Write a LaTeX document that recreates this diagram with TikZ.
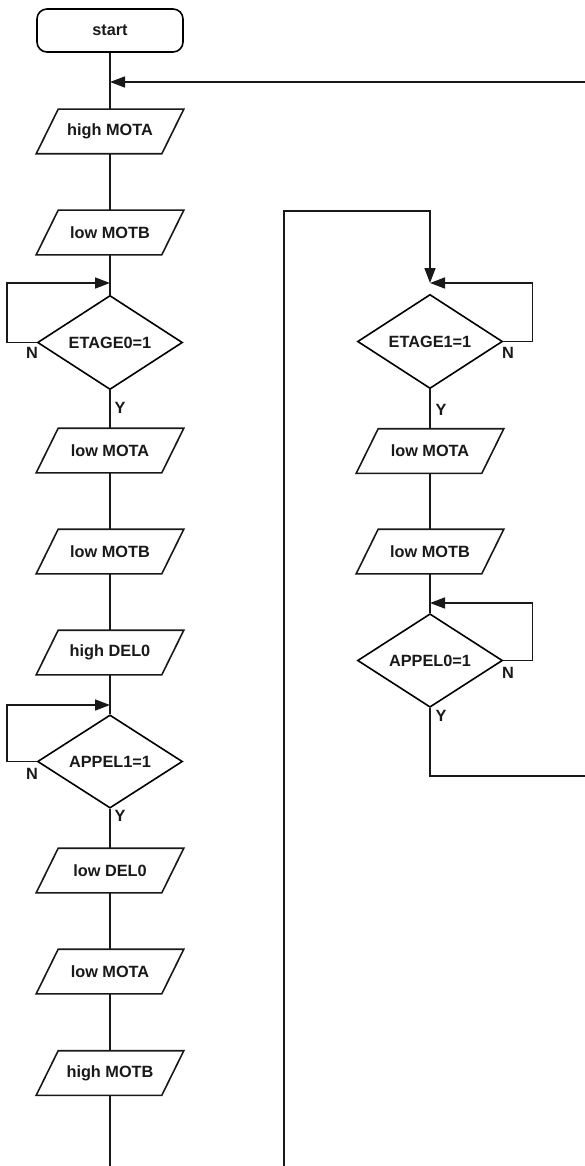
\documentclass[tikz,border=0pt]{standalone}
\usepackage{fontspec}
\setmainfont{Liberation Sans}
\usetikzlibrary{shapes.geometric,arrows.meta}
\tikzset{
  base/.style={draw, line width=1.6pt, inner sep=0pt, font=\fontsize{16.3}{18}\selectfont\bfseries, text=black!90},
  io/.style={base, draw=none, rectangle, minimum width=124pt, minimum height=43pt},
  dec/.style={base, diamond, minimum width=145pt, minimum height=87pt},
  term/.style={base, rectangle, rounded corners=10pt, minimum width=146pt, minimum height=43pt},
  lab/.style={font=\fontsize{16.3}{18}\selectfont\bfseries, text=black!90, inner sep=0pt},
  ln/.style={line width=1.6pt, draw=black!90},
  arr/.style={ln, -{Triangle[length=15pt,width=11pt]}}
}
\begin{document}
\begin{tikzpicture}[x=1pt,y=-1pt]
\useasboundingbox (0,0) rectangle (585,1166);
% left column
\node[term] (start) at (110,30.5) {start};
\node[io] (hMOTA) at (110,131.5) {high MOTA};
\node[io] (lMOTB1) at (110,232.5) {low MOTB};
\node[dec] (e0) at (110,342.5) {ETAGE0=1};
\node[io] (lMOTA1) at (110,450.5) {low MOTA};
\node[io] (lMOTB2) at (110,551.5) {low MOTB};
\node[io] (hDEL0) at (110,652.5) {high DEL0};
\node[dec] (a1) at (110,761.5) {APPEL1=1};
\node[io] (lDEL0) at (110,870.5) {low DEL0};
\node[io] (lMOTA2) at (110,971.5) {low MOTA};
\node[io] (hMOTB) at (110,1073) {high MOTB};
% right column
\node[dec] (e1) at (430,341.5) {ETAGE1=1};
\node[io] (lMOTA3) at (430,451) {low MOTA};
\node[io] (lMOTB3) at (430,551.5) {low MOTB};
\node[dec] (a0) at (430,660.5) {APPEL0=1};
% parallelogram outlines of the io nodes
\foreach \n in {hMOTA,lMOTB1,lMOTA1,lMOTB2,hDEL0,lDEL0,lMOTA2,hMOTB,lMOTA3,lMOTB3}
  \draw[ln, line join=miter] ([xshift=11pt]\n.north west) -- ([xshift=11pt]\n.north east)
     -- ([xshift=-11pt]\n.south east) -- ([xshift=-11pt]\n.south west) -- cycle;
% labels
\node[lab] (n0) at (32,353) {N};
\node[lab] (y0) at (120,408) {Y};
\node[lab] (n1) at (508,353) {N};
\node[lab] (y1) at (441,410) {Y};
\node[lab] (n2) at (508,673) {N};
\node[lab] (y2) at (441,716) {Y};
\node[lab] (n3) at (32,774) {N};
\node[lab] (y3) at (120,816) {Y};
% junction coordinates
\coordinate (j0) at (110,82);
\coordinate (r0) at (586,82);
\coordinate (j1) at (110,283);
\coordinate (j2) at (430,283);
\coordinate (tr) at (430,211);
\coordinate (bl) at (284,1167);
\coordinate (j3) at (430,603);
\coordinate (j4) at (110,705);
\coordinate (r1) at (586,776);
\coordinate (b0) at (110,1167);
% main flow left
\draw[ln] (start) -- (hMOTA);
\draw[ln] (hMOTA) -- (lMOTB1);
\draw[ln] (lMOTB1) -- (e0);
\draw[ln] (e0) -- (lMOTA1);
\draw[ln] (lMOTA1) -- (lMOTB2);
\draw[ln] (lMOTB2) -- (hDEL0);
\draw[ln] (hDEL0) -- (a1);
\draw[ln] (a1) -- (lDEL0);
\draw[ln] (lDEL0) -- (lMOTA2);
\draw[ln] (lMOTA2) -- (hMOTB);
\draw[ln] (hMOTB) -- (b0);
% main flow right
\draw[ln] (e1) -- (lMOTA3);
\draw[ln] (lMOTA3) -- (lMOTB3);
\draw[ln] (lMOTB3) -- (a0);
\draw[ln] (a0.south) |- (r1);
% loops and returns
\draw[arr] (r0) -- (j0);
\draw[arr] (e0.west) -- ++(-30,0) |- (j1);
\draw[arr] (a1.west) -- ++(-30,0) |- (j4);
\draw[arr] (e1.east) -- ++(29,0) |- (j2);
\draw[arr] (a0.east) -- ++(29,0) |- (j3);
\draw[arr] (bl) |- (tr) -- (j2);
\end{tikzpicture}
\end{document}
